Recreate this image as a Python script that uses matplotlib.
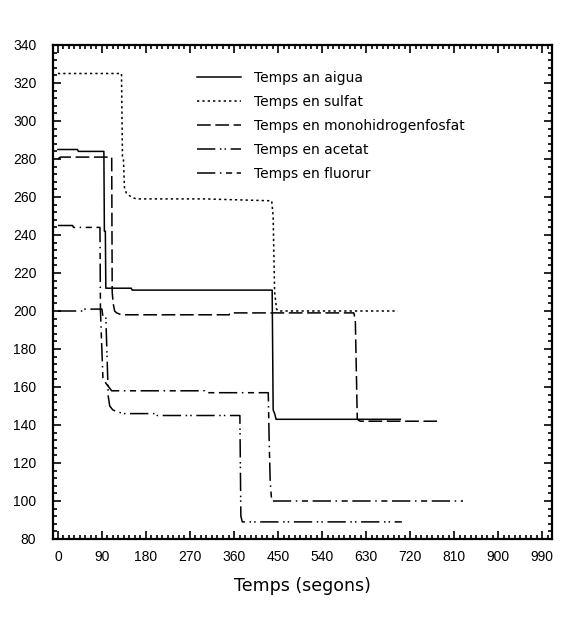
import matplotlib
matplotlib.use("Agg")
import matplotlib.pyplot as plt
from matplotlib.ticker import AutoMinorLocator

plt.rcParams['font.family'] = ['Liberation Sans', 'DejaVu Sans']

# ---- data (time in seconds, values) ----
aigua_t = [0, 40, 42, 94, 95, 97, 98, 150, 152, 438, 440, 443, 446, 700]
aigua_v = [285, 285, 284, 284, 242, 242, 212, 212, 211, 211, 148, 146, 143, 143]

sulfat_t = [0, 130, 132, 134, 136, 140, 150, 160, 300, 437, 440, 443, 447, 450, 695]
sulfat_v = [325, 325, 281, 280, 265, 262, 260, 259, 259, 258, 250, 210, 201, 200, 200]

fosfat_t = [0, 5, 110, 111, 113, 116, 120, 130, 350, 352, 605, 608, 612, 618, 775]
fosfat_v = [280, 281, 281, 210, 204, 200, 199, 198, 198, 199, 199, 195, 143, 142, 142]

acetat_t = [0, 50, 52, 90, 92, 98, 100, 103, 106, 112, 120, 135, 200, 203, 372, 374, 377, 703]
acetat_v = [200, 200, 201, 201, 197, 197, 180, 155, 150, 148, 147, 146, 146, 145, 145, 92, 89, 89]

fluorur_t = [0, 30, 32, 86, 87, 92, 98, 104, 110, 300, 302, 430, 432, 434, 437, 828]
fluorur_v = [245, 245, 244, 244, 200, 165, 162, 160, 158, 158, 157, 157, 130, 110, 100, 100]

labels = ["Temps an aigua", "Temps en sulfat", "Temps en monohidrogenfosfat",
          "Temps en acetat", "Temps en fluorur"]

x_ticks = [0, 90, 180, 270, 360, 450, 540, 630, 720, 810, 900, 990]
y_ticks = [80, 100, 120, 140, 160, 180, 200, 220, 240, 260, 280, 300, 320, 340]

fig = plt.figure(figsize=(5.64, 6.21), dpi=100)
ax = fig.add_axes([53/564, 1-539/621, (552-53)/564, (539-45)/621])

lw = 1.1
ax.plot(aigua_t, aigua_v, color='black', lw=lw, linestyle='-', label=labels[0])
ax.plot(sulfat_t, sulfat_v, color='black', lw=lw, linestyle=(0, (1.5, 2)), label=labels[1])
ax.plot(fosfat_t, fosfat_v, color='black', lw=lw, linestyle=(0, (9, 3)), label=labels[2])
ax.plot(acetat_t, acetat_v, color='black', lw=lw, linestyle=(0, (12, 3, 1, 2, 1, 3)), label=labels[3])
ax.plot(fluorur_t, fluorur_v, color='black', lw=lw, linestyle=(0, (12, 3, 1, 3, 4, 3)), label=labels[4])

ax.set_xlim(-10, 1010)
ax.set_ylim(80, 340)
ax.set_xticks(x_ticks)
ax.set_yticks(y_ticks)
ax.xaxis.set_minor_locator(AutoMinorLocator(8))
ax.yaxis.set_minor_locator(AutoMinorLocator(5))
ax.tick_params(which='both', direction='in', top=True, right=True, labelsize=10, width=1.2)
ax.tick_params(which='major', length=6)
ax.tick_params(which='minor', length=3)
ax.tick_params(axis='x', pad=8)
ax.tick_params(axis='y', pad=12)
for s in ax.spines.values():
    s.set_linewidth(1.6)

ax.set_xlabel("Temps (segons)", fontsize=12.5, labelpad=9, family=['DejaVu Sans'])

ax.legend(loc='upper left', bbox_to_anchor=(197/564, 1-71/621), bbox_transform=fig.transFigure,
          frameon=False, prop={'family': 'DejaVu Sans', 'size': 10}, handlelength=3.2,
          handletextpad=0.9, labelspacing=0.72, borderpad=0, borderaxespad=0)

fig.savefig("out.png", dpi=100)
